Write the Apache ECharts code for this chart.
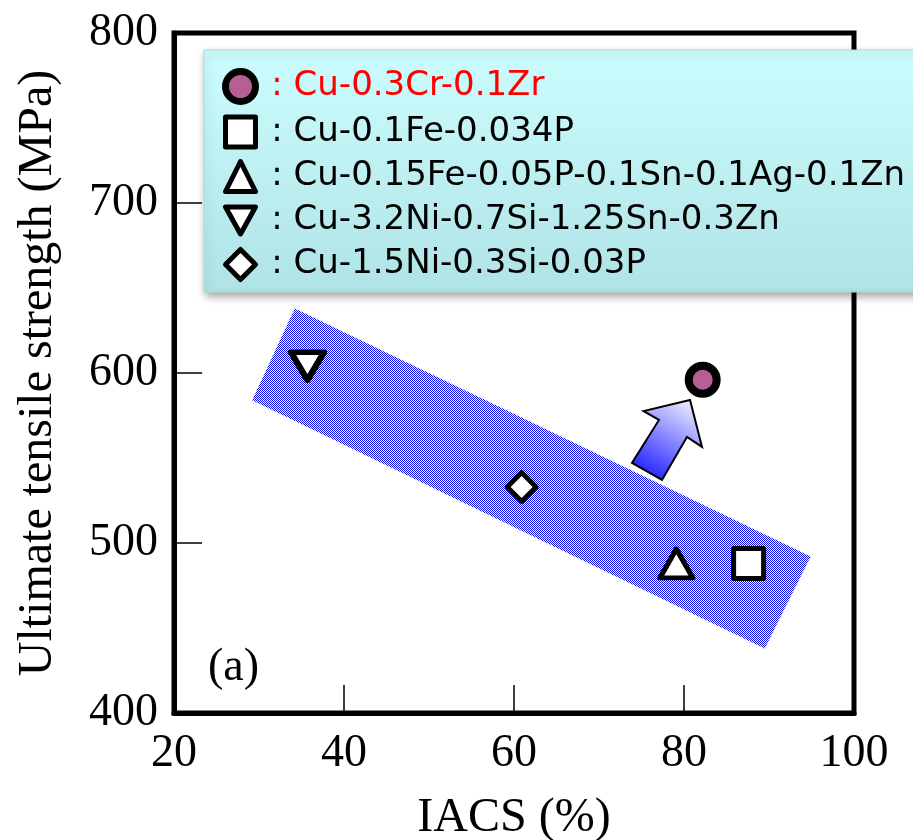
<!DOCTYPE html>
<html>
<head>
<meta charset="utf-8">
<script src="https://cdn.jsdelivr.net/npm/echarts@6/dist/echarts.min.js"></script>
<style>
html,body{margin:0;padding:0;background:#fff;}
#chart{width:913px;height:840px;}
</style>
</head>
<body>
<div id="chart"></div>
<script>
// ---- data ----
const seriesNames = ['Cu-0.3Cr-0.1Zr', 'Cu-0.1Fe-0.034P', 'Cu-0.15Fe-0.05P-0.1Sn-0.1Ag-0.1Zn', 'Cu-3.2Ni-0.7Si-1.25Sn-0.3Zn', 'Cu-1.5Ni-0.3Si-0.03P'];
const crZr = [[82.2, 596]];
const feP = [[87.6, 488]];
const feSnAgZn = [[79.1, 488]];
const niSiSnZn = [[35.7, 604]];
const niSiP = [[60.9, 533]];
const xTicks = [20, 40, 60, 80, 100];
const yTicks = [400, 500, 600, 700, 800];
// trend band corners (data units)
const bandCorners = [[34.2, 638], [94.9, 492], [89.5, 438], [29.2, 584]];
// arrow outline (data units)
const arrowPoints = [[80.71, 584.1], [82.12, 556.5], [80.35, 562.4], [77.41, 537.1], [73.88, 547.1], [77.06, 572.4], [75.24, 577.6]];

// checker pattern
const pc = document.createElement('canvas');
pc.width = 2; pc.height = 2;
const pctx = pc.getContext('2d');
pctx.fillStyle = '#ffffff'; pctx.fillRect(0, 0, 2, 2);
pctx.fillStyle = '#0a0ae6'; pctx.fillRect(0, 0, 1, 1); pctx.fillRect(1, 1, 1, 1);

const chart = echarts.init(document.getElementById('chart'), null, {renderer: 'canvas'});
const serif = '"Liberation Serif", "Times New Roman", serif';
const sans = '"DejaVu Sans", Arial, sans-serif';
const downTri = 'path://M0,0 L20,0 L10,18 Z';

const markerStyles = [
  {symbol: 'circle', size: 28, color: '#b65f92', bw: 8},
  {symbol: 'rect', size: 30, color: '#ffffff', bw: 5},
  {symbol: 'triangle', size: [33, 29], color: '#ffffff', bw: 5},
  {symbol: downTri, size: [33, 28], color: '#ffffff', bw: 6},
  {symbol: 'diamond', size: [29, 29], color: '#ffffff', bw: 5}
];
const dataSets = [crZr, feP, feSnAgZn, niSiSnZn, niSiP];

const scatterSeries = seriesNames.map((n, i) => ({
  name: n,
  type: 'scatter',
  data: dataSets[i],
  symbol: markerStyles[i].symbol,
  symbolSize: markerStyles[i].size,
  symbolKeepAspect: false,
  z: 5,
  itemStyle: {color: markerStyles[i].color, borderColor: '#000', borderWidth: markerStyles[i].bw, borderJoin: 'round', opacity: 1}
}));

const option = {
  backgroundColor: '#ffffff',
  animation: false,
  grid: {left: 174, right: 59, top: 33, bottom: 127, show: true, borderColor: '#000', borderWidth: 5, backgroundColor: 'transparent', containLabel: false, outerBoundsMode: 'none'},
  xAxis: {
    type: 'value', min: xTicks[0], max: xTicks[xTicks.length - 1], interval: 20,
    name: 'IACS (%)', nameLocation: 'middle', nameGap: 81,
    nameTextStyle: {fontFamily: serif, fontSize: 48, color: '#000'},
    axisLine: {show: true, lineStyle: {color: '#000', width: 5}},
    axisTick: {show: true, inside: true, length: 28, lineStyle: {color: '#000', width: 1.5}},
    axisLabel: {fontFamily: serif, fontSize: 46, color: '#000', margin: 18},
    splitLine: {show: false}
  },
  yAxis: {
    type: 'value', min: yTicks[0], max: yTicks[yTicks.length - 1], interval: 100,
    name: 'Ultimate tensile strength (MPa)', nameLocation: 'middle', nameGap: 112, nameRotate: 90,
    nameTextStyle: {fontFamily: serif, fontSize: 48, color: '#000'},
    axisLine: {show: true, lineStyle: {color: '#000', width: 5}},
    axisTick: {show: true, inside: true, length: 28, lineStyle: {color: '#000', width: 1.5}},
    axisLabel: {fontFamily: serif, fontSize: 46, color: '#000', margin: 16},
    splitLine: {show: false}
  },
  legend: {
    orient: 'vertical', left: 222, top: 68, z: 20,
    itemWidth: 30, itemHeight: 30, itemGap: 9.5, padding: 0,
    selectedMode: false,
    formatter: ' : {name}',
    textStyle: {fontFamily: sans, fontSize: 34, color: '#000'},
    data: seriesNames.map((n, i) => ({
      name: n,
      icon: markerStyles[i].symbol,
      itemStyle: {borderColor: '#000', borderWidth: i === 0 ? 7 : 5, borderJoin: 'round', color: markerStyles[i].color},
      textStyle: i === 0 ? {color: '#ff0000'} : {}
    }))
  },
  graphic: [
    {
      type: 'rect', z: 10, silent: true,
      shape: {x: 204, y: 50, width: 720, height: 242},
      style: {
        fill: new echarts.graphic.LinearGradient(0, 0, 0, 1, [{offset: 0, color: '#ccfdfe'}, {offset: 1, color: '#b0e3e6'}]),
        stroke: '#a8dcdc', lineWidth: 1,
        shadowBlur: 8, shadowColor: 'rgba(0,0,0,0.35)', shadowOffsetX: 2, shadowOffsetY: 4
      }
    },
    {
      type: 'text', z: 10, silent: true, x: 208, y: 668,
      style: {text: '(a)', font: '46px ' + serif, fill: '#000', verticalAlign: 'middle'}
    }
  ],
  series: [
    {
      type: 'custom', name: 'band', silent: true, z: 1,
      data: [0],
      renderItem: function (params, api) {
        const pts = bandCorners.map(p => api.coord(p));
        return {type: 'polygon', shape: {points: pts}, style: {fill: {image: pc, repeat: 'repeat'}}};
      }
    },
    {
      type: 'custom', name: 'arrow', silent: true, z: 3,
      data: [0],
      renderItem: function (params, api) {
        const pts = arrowPoints.map(p => api.coord(p));
        return {
          type: 'polygon', shape: {points: pts},
          style: {
            fill: new echarts.graphic.LinearGradient(0.15, 1, 0.85, 0, [{offset: 0, color: '#1212ff'}, {offset: 1, color: '#f4f4ff'}]),
            stroke: '#000', lineWidth: 2, lineJoin: 'miter'
          }
        };
      }
    }
  ].concat(scatterSeries)
};
chart.setOption(option);
</script>
</body>
</html>
